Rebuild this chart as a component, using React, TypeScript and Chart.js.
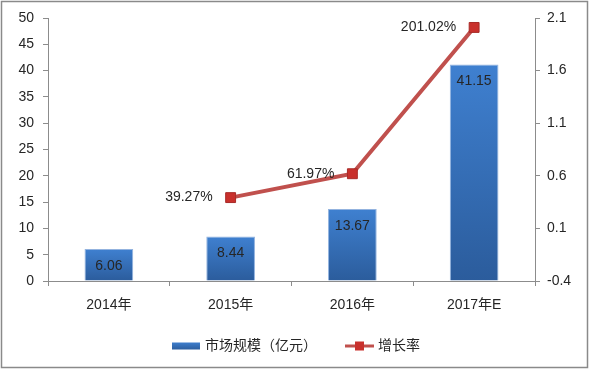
import React, { useEffect, useRef } from "react";
import { Chart, registerables } from "chart.js";

Chart.register(...registerables);

const categories = ["2014年", "2015年", "2016年", "2017年E"];
const marketSize = [6.06, 8.44, 13.67, 41.15];
const growthRate = [null, 0.3927, 0.6197, 2.0102];
const growthLabels = ["", "39.27%", "61.97%", "201.02%"];
const barLabel = "市场规模（亿元）";
const lineLabel = "增长率";

const FONT = '"Liberation Sans", "Noto Sans CJK SC", sans-serif';
const TEXT = "#262626";
const AXIS = "#8c8c8c";
const FS = 14;

const overlay = {
  id: "overlay",
  afterDraw(chart: any) {
    const ctx = chart.ctx;
    ctx.save();
    ctx.strokeStyle = "#8a8a8a";
    ctx.lineWidth = 1.5;
    ctx.strokeRect(1.5, 1.5, 586, 366);

    ctx.font = `${FS}px ${FONT}`;
    ctx.fillStyle = TEXT;
    const barMeta = chart.getDatasetMeta(1);
    barMeta.data.forEach((el: any, i: number) => {
      ctx.textAlign = "center";
      ctx.textBaseline = "middle";
      ctx.fillText(marketSize[i].toFixed(2), el.x, el.y + 17);
    });
    const lineMeta = chart.getDatasetMeta(0);
    lineMeta.data.forEach((el: any, i: number) => {
      if (growthRate[i] == null) return;
      ctx.textAlign = "right";
      ctx.textBaseline = "middle";
      ctx.fillText(growthLabels[i], el.x - 18, el.y);
    });

    // legend
    const ly = 346;
    const g = ctx.createLinearGradient(0, ly - 4, 0, ly + 4);
    g.addColorStop(0, "#3f80d0");
    g.addColorStop(1, "#2b5c9c");
    ctx.fillStyle = g;
    ctx.fillRect(172, ly - 3.5, 28, 7);
    ctx.fillStyle = TEXT;
    ctx.textAlign = "left";
    ctx.textBaseline = "middle";
    ctx.fillText(barLabel, 205, ly);

    ctx.strokeStyle = "#c0504d";
    ctx.lineWidth = 3;
    ctx.beginPath();
    ctx.moveTo(345, ly);
    ctx.lineTo(374, ly);
    ctx.stroke();
    ctx.fillStyle = "#c9302c";
    ctx.fillRect(355, ly - 4.5, 9, 9);
    ctx.fillStyle = TEXT;
    ctx.fillText(lineLabel, 378, ly);
    ctx.restore();
  },
};

export default function App() {
  const ref = useRef<HTMLCanvasElement>(null);
  useEffect(() => {
    document.body.style.margin = "0";
    const chart = new Chart(ref.current!, {
      type: "bar",
      data: {
        labels: categories,
        datasets: [
          {
            type: "line",
            label: lineLabel,
            data: growthRate as any,
            yAxisID: "y1",
            borderColor: "#c0504d",
            borderWidth: 4,
            pointStyle: "rect",
            pointRadius: 7,
            pointBackgroundColor: "#c9302c",
            pointBorderColor: "#a82b28",
            pointBorderWidth: 1,
            tension: 0,
            order: 0,
          },
          {
            type: "bar",
            label: barLabel,
            data: marketSize,
            yAxisID: "y",
            barPercentage: 0.4,
            categoryPercentage: 1,
            backgroundColor: (c: any) => {
              const chart = c.chart;
              const ys = chart.scales?.y;
              if (!ys || c.dataIndex == null) return "#3570bb";
              const top = ys.getPixelForValue(marketSize[c.dataIndex]);
              const bottom = ys.getPixelForValue(0);
              if (!isFinite(top) || !isFinite(bottom) || top === bottom) return "#3570bb";
              const g = chart.ctx.createLinearGradient(0, top, 0, bottom);
              g.addColorStop(0, "#3f80d0");
              g.addColorStop(1, "#2b5c9c");
              return g;
            },
            borderColor: "rgba(120,160,215,0.8)",
            borderWidth: 1,
            order: 1,
          },
        ],
      },
      options: {
        responsive: true,
        maintainAspectRatio: false,
        animation: false,
        layout: { padding: { top: 18, left: 0, right: 0, bottom: 0 } },
        plugins: { legend: { display: false }, tooltip: { enabled: false } },
        scales: {
          x: {
            grid: { offset: true, drawOnChartArea: false, drawTicks: true, tickLength: 5, color: AXIS },
            border: { display: true, color: AXIS },
            ticks: { font: { family: FONT, size: FS }, color: TEXT, padding: 11 },
            afterFit: (s: any) => { s.height = 88; },
          },
          y: {
            position: "left",
            min: 0,
            max: 50,
            ticks: { stepSize: 5, font: { family: FONT, size: FS }, color: TEXT, padding: 9 },
            grid: { drawOnChartArea: false, drawTicks: true, tickLength: 5, color: AXIS },
            border: { display: true, color: AXIS },
            afterFit: (s: any) => { s.width = 48; },
          },
          y1: {
            position: "right",
            min: -0.4,
            max: 2.1,
            ticks: {
              stepSize: 0.5,
              font: { family: FONT, size: FS },
              color: TEXT,
              padding: 7,
              callback: (v: any) => (Math.round(Number(v) * 10) / 10).toString(),
            },
            grid: { drawOnChartArea: false, drawTicks: true, tickLength: 5, color: AXIS },
            border: { display: true, color: AXIS },
            afterFit: (s: any) => { s.width = 55; },
          },
        },
      },
      plugins: [overlay],
    });
    return () => chart.destroy();
  }, []);
  return (
    <div style={{ position: "absolute", left: 0, top: 0, width: 590, height: 369, background: "#fff" }}>
      <canvas ref={ref} />
    </div>
  );
}
